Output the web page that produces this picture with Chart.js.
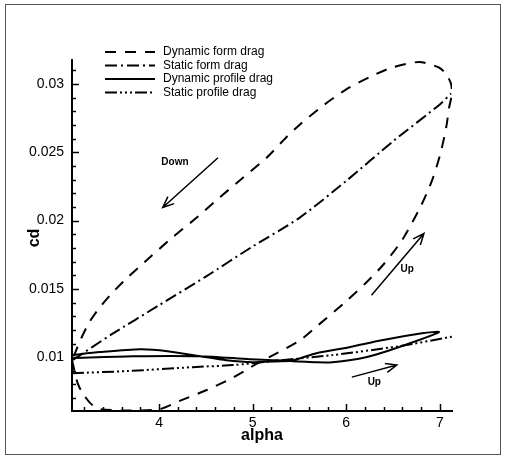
<!DOCTYPE html>
<html>
<head>
<meta charset="utf-8">
<script src="https://cdn.jsdelivr.net/npm/chart.js@4.4.0/dist/chart.umd.min.js"></script>
<style>
    html, body { margin: 0; padding: 0; background: #fff; }
    #wrap { width: 508px; height: 459px; }
</style>
</head>
<body>
<div id="wrap"><canvas id="cdChart" width="508" height="459"></canvas></div>
<script>
// ============================================
// DATA
// ============================================
const dynFormAlpha = [3.07, 3.10, 3.13, 3.18, 3.27, 3.37, 3.69, 4.01, 4.22, 4.51, 4.79, 5.04, 5.26, 5.50, 5.71, 6.00, 6.22, 6.40, 6.60, 6.80, 6.92, 7.01, 7.07, 7.10, 7.13, 7.12, 7.07, 6.99, 6.78, 6.49, 6.25, 6.00, 5.75, 5.50, 5.36, 5.15, 4.89, 4.65, 4.40, 4.15, 3.90, 3.66, 3.50, 3.35, 3.25, 3.17, 3.09];
const dynFormCd    = [0.0098, 0.0089, 0.0081, 0.0074, 0.0066, 0.0062, 0.0061, 0.0062, 0.0068, 0.0076, 0.0085, 0.0095, 0.0103, 0.0112, 0.0124, 0.0141, 0.0155, 0.0168, 0.0186, 0.0211, 0.0230, 0.0250, 0.0269, 0.0283, 0.0293, 0.0300, 0.0307, 0.0312, 0.0316, 0.0312, 0.0305, 0.0296, 0.0284, 0.0270, 0.0261, 0.0246, 0.0231, 0.0217, 0.0202, 0.0188, 0.0173, 0.0158, 0.0147, 0.0135, 0.0125, 0.0114, 0.0101];

const statFormAlpha = [3.08, 3.5, 4.0, 4.5, 5.0, 5.5, 6.0, 6.5, 7.0, 7.12];
const statFormCd    = [0.0098, 0.0117, 0.0138, 0.0159, 0.0181, 0.0202, 0.0229, 0.0258, 0.0285, 0.0293];

const dynProfAlpha = [3.07, 3.37, 3.80, 4.09, 4.44, 4.72, 5.00, 5.21, 5.43, 5.68, 5.85, 6.21, 6.56, 6.99, 6.81, 6.38, 6.03, 5.68, 5.43, 5.21, 4.97, 4.44, 3.72, 3.07];
const dynProfCd    = [0.01015, 0.01037, 0.01058, 0.01044, 0.01007, 0.00978, 0.00963, 0.00968, 0.00971, 0.00963, 0.00963, 0.0100, 0.01073, 0.01183, 0.01175, 0.01124, 0.01073, 0.01029, 0.00978, 0.00978, 0.00985, 0.01007, 0.01007, 0.00993];

const statProfAlpha = [3.07, 3.66, 4.36, 4.79, 5.20, 5.85, 6.56, 7.13];
const statProfCd    = [0.00883, 0.00898, 0.00927, 0.00942, 0.0097, 0.01015, 0.0108, 0.0115];

const seriesNames = ['Dynamic form drag', 'Static form drag', 'Dynamic profile drag', 'Static profile drag'];

const xTicks = [4, 5, 6, 7];
const yTicks = [0.01, 0.015, 0.02, 0.025, 0.03];

// arrows: [alpha, cd] from -> to, with a label
const arrowFrom   = [[4.63, 0.0246], [6.27, 0.01453], [6.06, 0.00854]];
const arrowTo     = [[4.04, 0.02095], [6.83, 0.01905], [6.54, 0.00942]];
const arrowLabels = ['Down', 'Up', 'Up'];
const labelAt     = [[4.17, 0.0243], [6.65, 0.0164], [6.30, 0.0082]];

// ============================================
// HELPERS
// ============================================
function toPoints(xs, ys) {
    return xs.map((x, i) => ({ x: x, y: ys[i] }));
}

const dashes = [
    [11, 9],
    [12, 4, 2, 4],
    [],
    [12, 3, 2, 3, 2, 3, 2, 3]
];

function makeSet(i, xs, ys) {
    return {
        label: seriesNames[i],
        data: toPoints(xs, ys),
        showLine: true,
        borderColor: '#000',
        borderWidth: 2,
        borderDash: dashes[i],
        pointRadius: 0,
        tension: 0.25,
        fill: false
    };
}

function drawArrow(ctx, x1, y1, x2, y2) {
    const ang = Math.atan2(y2 - y1, x2 - x1);
    const len = 12;
    ctx.beginPath();
    ctx.moveTo(x1, y1);
    ctx.lineTo(x2, y2);
    ctx.moveTo(x2 - len * Math.cos(ang - 0.4), y2 - len * Math.sin(ang - 0.4));
    ctx.lineTo(x2, y2);
    ctx.lineTo(x2 - len * Math.cos(ang + 0.4), y2 - len * Math.sin(ang + 0.4));
    ctx.stroke();
}

// ============================================
// PLUGIN: frame, inward ticks, titles, legend, arrows
// ============================================
const decorPlugin = {
    id: 'decor',
    beforeDraw(chart) {
        const ctx = chart.ctx;
        ctx.save();
        ctx.fillStyle = '#fff';
        ctx.fillRect(0, 0, chart.width, chart.height);
        ctx.strokeStyle = '#555';
        ctx.lineWidth = 1;
        ctx.strokeRect(5.5, 4.5, 495, 450);
        ctx.restore();
    },
    afterDraw(chart) {
        const ctx = chart.ctx;
        const xs = chart.scales.x;
        const ys = chart.scales.y;
        const area = chart.chartArea;
        ctx.save();
        ctx.strokeStyle = '#000';
        ctx.fillStyle = '#000';

        // inward ticks on the y axis
        ctx.lineWidth = 1.5;
        for (let v = 0.007; v < ys.max; v += 0.001) {
            const py = Math.round(ys.getPixelForValue(v)) + 0.5;
            const major = yTicks.some(t => Math.abs(t - v) < 1e-6);
            ctx.beginPath();
            ctx.moveTo(area.left, py);
            ctx.lineTo(area.left + (major ? 7 : 4), py);
            ctx.stroke();
        }
        // inward ticks on the x axis
        for (let v = 3.2; v < xs.max; v += 0.2) {
            const px = Math.round(xs.getPixelForValue(v)) + 0.5;
            const major = xTicks.some(t => Math.abs(t - v) < 1e-6);
            ctx.beginPath();
            ctx.moveTo(px, area.bottom);
            ctx.lineTo(px, area.bottom - (major ? 7 : 4));
            ctx.stroke();
        }

        // axis titles
        ctx.font = 'bold 16px "Liberation Sans", Arial, sans-serif';
        ctx.textAlign = 'center';
        ctx.textBaseline = 'middle';
        ctx.fillText('alpha', 262, 436);
        ctx.save();
        ctx.translate(35, 238);
        ctx.rotate(-Math.PI / 2);
        ctx.fillText('cd', 0, 0);
        ctx.restore();

        // legend
        ctx.font = '12px "Liberation Sans", Arial, sans-serif';
        ctx.textAlign = 'left';
        ctx.lineWidth = 2;
        seriesNames.forEach((name, i) => {
            const ly = 52 + i * 13.5;
            ctx.setLineDash(dashes[i]);
            ctx.beginPath();
            ctx.moveTo(105, ly);
            ctx.lineTo(155, ly);
            ctx.stroke();
            ctx.setLineDash([]);
            ctx.fillText(name, 163, ly);
        });

        // arrows
        ctx.lineWidth = 1.5;
        ctx.font = 'bold 10px "Liberation Sans", Arial, sans-serif';
        ctx.textAlign = 'center';
        arrowFrom.forEach((f, i) => {
            const t = arrowTo[i];
            drawArrow(ctx,
                xs.getPixelForValue(f[0]), ys.getPixelForValue(f[1]),
                xs.getPixelForValue(t[0]), ys.getPixelForValue(t[1]));
            ctx.fillText(arrowLabels[i], xs.getPixelForValue(labelAt[i][0]), ys.getPixelForValue(labelAt[i][1]));
        });
        ctx.restore();
    }
};

// ============================================
// CHART
// ============================================
const ctx = document.getElementById('cdChart');
new Chart(ctx.getContext('2d'), {
    type: 'scatter',
    data: {
        datasets: [
            makeSet(0, dynFormAlpha, dynFormCd),
            makeSet(1, statFormAlpha, statFormCd),
            makeSet(2, dynProfAlpha, dynProfCd),
            makeSet(3, statProfAlpha, statProfCd)
        ]
    },
    options: {
        responsive: false,
        animation: false,
        devicePixelRatio: 1,
        layout: { padding: { top: 60, right: 56, left: 0, bottom: 0 } },
        plugins: {
            legend: { display: false },
            tooltip: { enabled: false }
        },
        scales: {
            x: {
                type: 'linear',
                min: 3.07,
                max: 7.13,
                grid: { display: false, drawTicks: false },
                border: { display: true, color: '#000', width: 2 },
                afterBuildTicks: s => { s.ticks = xTicks.map(v => ({ value: v })); },
                afterFit: s => { s.height = 48; },
                ticks: {
                    color: '#000',
                    padding: 4,
                    font: { family: '"Liberation Sans", Arial, sans-serif', size: 14 },
                    callback: v => String(v)
                }
            },
            y: {
                type: 'linear',
                min: 0.00606,
                max: 0.03175,
                grid: { display: false, drawTicks: false },
                border: { display: true, color: '#000', width: 2 },
                afterBuildTicks: s => { s.ticks = yTicks.map(v => ({ value: v })); },
                afterFit: s => { s.width = 72; },
                ticks: {
                    color: '#000',
                    padding: 8,
                    font: { family: '"Liberation Sans", Arial, sans-serif', size: 14 },
                    callback: v => String(+v.toFixed(3))
                }
            }
        }
    },
    plugins: [decorPlugin]
});
</script>
</body>
</html>
